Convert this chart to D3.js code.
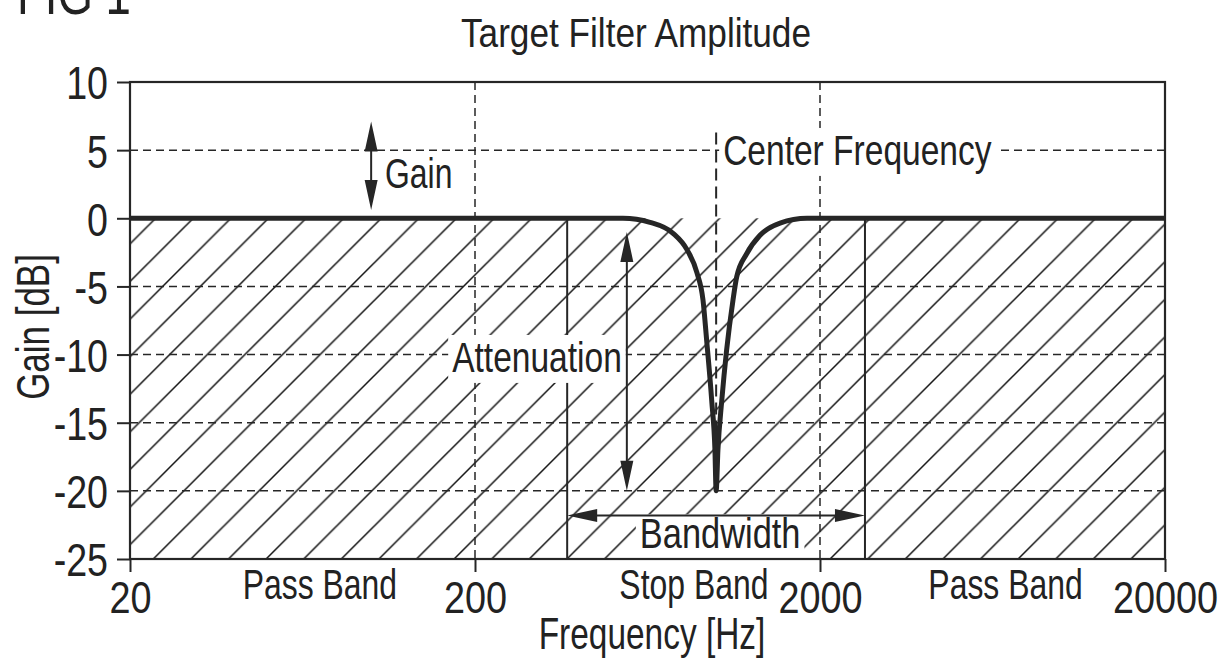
<!DOCTYPE html>
<html>
<head>
<meta charset="utf-8">
<script src="https://cdn.jsdelivr.net/npm/d3@7"></script>
<style>
  body { margin: 0; background: #fff; }
  text { font-family: "Liberation Sans", Arial, sans-serif; fill: #222; }
</style>
</head>
<body>
<div id="chart"></div>
<script>
// filter response
const freqHz = [20, 537, 643, 750, 823, 880, 916, 939, 971, 992, 1000, 1012, 1038, 1072, 1119, 1147, 1226, 1340, 1532, 1834, 20000]
const gainDb = [0, 0, -0.3, -1.1, -2.3, -4.0, -6.0, -9.0, -13.4, -17, -20, -17, -13.4, -9.7, -6.0, -4.3, -2.6, -1.25, -0.35, 0, 0]

const yTicks = [10, 5, 0, -5, -10, -15, -20, -25]
const xTicks = [20, 200, 2000, 20000]
const gridGain = [5, -5, -10, -15, -20]
const gridFreq = [200, 2000]

const bandLabels = ["Pass Band", "Stop Band", "Pass Band"]
const bandLabelFreq = [71, 862, 6900]
const stopBandEdges = [370, 2700]
const centerFreq = 1000
const centerLineTop = 6.3

// arrows: [freq, gain from, gain to]
const gainArrow = [100, 7.1, 0.6]
const attenuationArrow = [551, -1, -20]
const bandwidthArrowGain = -21.8

var SX = 0.76   // condensed look

var W = 1231, H = 666
var margin = {top: 82, right: 66, bottom: 107, left: 130},
    width = W - margin.left - margin.right,
    height = H - margin.top - margin.bottom;

var svg = d3.select("#chart")
  .append("svg")
    .attr("width", W)
    .attr("height", H)

var x = d3.scaleLog()
  .domain([20, 20000])
  .range([margin.left, margin.left + width])

var y = d3.scaleLinear()
  .domain([-25, 10])
  .range([margin.top + height, margin.top])

var ink = "#262626"

// hatch pattern for the area under 0 dB
var P = 37.6
var pat = svg.append("defs").append("pattern")
  .attr("id", "hatch")
  .attr("patternUnits", "userSpaceOnUse")
  .attr("x", 35.5).attr("y", 0)
  .attr("width", P).attr("height", P)
pat.append("path")
  .attr("d", `M0,${P}L${P},0M-2,2L2,-2M${P-2},${P+2}L${P+2},${P-2}`)
  .attr("stroke", "#111")
  .attr("stroke-width", 1.5)

svg.append("rect")
  .attr("x", x(20))
  .attr("y", y(0))
  .attr("width", x(20000) - x(20))
  .attr("height", y(-25) - y(0))
  .attr("fill", "url(#hatch)")

// dashed grid
svg.selectAll("hgrid")
  .data(gridGain)
  .enter()
  .append("line")
  .attr("x1", x(20)).attr("x2", x(20000))
  .attr("y1", d => y(d)).attr("y2", d => y(d))
  .attr("stroke", ink)
  .attr("stroke-width", 1.5)
  .attr("stroke-dasharray", "8,5")

svg.selectAll("vgrid")
  .data(gridFreq)
  .enter()
  .append("line")
  .attr("x1", d => x(d)).attr("x2", d => x(d))
  .attr("y1", y(10)).attr("y2", y(-25))
  .attr("stroke", ink)
  .attr("stroke-width", 1.5)
  .attr("stroke-dasharray", "8,5")

// stop band edges
svg.selectAll("edges")
  .data(stopBandEdges)
  .enter()
  .append("line")
  .attr("x1", d => x(d)).attr("x2", d => x(d))
  .attr("y1", y(0)).attr("y2", y(-25))
  .attr("stroke", ink)
  .attr("stroke-width", 2)

// center frequency marker
svg.append("line")
  .attr("x1", x(centerFreq)).attr("x2", x(centerFreq))
  .attr("y1", y(centerLineTop)).attr("y2", y(-20))
  .attr("stroke", ink)
  .attr("stroke-width", 2)
  .attr("stroke-dasharray", "12,6")

// labels (condensed by horizontal scale)
function label(text, px, py, size, anchor, bg, sx) {
  var g = svg.append("g").attr("transform", `translate(${px},${py})`)
  g.append("text")
    .attr("transform", `scale(${sx || SX},1)`)
    .attr("text-anchor", anchor || "middle")
    .style("font-size", size + "px")
    .text(text)
  if (bg) {
    var b = g.node().getBBox()
    g.insert("rect", "text")
      .attr("x", b.x - bg[0]).attr("y", b.y + bg[1])
      .attr("width", b.width + bg[0] * 2).attr("height", b.height - bg[1] + 2)
      .attr("fill", "#fff")
  }
  return g
}

label("Center Frequency", x(centerFreq) + 7, 165, 43, "start", [4, 2], 0.78)
label("Attenuation", 537, 372, 43, "middle", [4, 2], 0.78)
label("Bandwidth", x(1000) + 4, 548, 43, "middle", [4, 5], 0.8)
label("Gain", 385, 188, 42, "start")

// response curve
var line = d3.line()
  .x((d, i) => x(freqHz[i]))
  .y(d => y(d))
  .curve(d3.curveMonotoneX)

svg.append("path")
  .datum(gainDb)
  .attr("d", line)
  .attr("fill", "none")
  .attr("stroke", ink)
  .attr("stroke-width", 5)
  .attr("stroke-linejoin", "round")

// arrows
var HL = 30, HW = 6.5
function vArrow(a) {
  var px = x(a[0]), y1 = y(a[1]), y2 = y(a[2])
  svg.append("line")
    .attr("x1", px).attr("x2", px)
    .attr("y1", y1 + HL - 2).attr("y2", y2 - HL + 2)
    .attr("stroke", ink).attr("stroke-width", 2)
  svg.append("path")
    .attr("d", `M${px},${y1}L${px - HW},${y1 + HL}L${px + HW},${y1 + HL}Z` +
               `M${px},${y2}L${px - HW},${y2 - HL}L${px + HW},${y2 - HL}Z`)
    .attr("fill", ink)
}
vArrow(gainArrow)
vArrow(attenuationArrow)

var bx1 = x(stopBandEdges[0]), bx2 = x(stopBandEdges[1]), by = y(bandwidthArrowGain)
svg.append("line")
  .attr("x1", bx1 + HL - 2).attr("x2", bx2 - HL + 2)
  .attr("y1", by).attr("y2", by)
  .attr("stroke", ink).attr("stroke-width", 2)
svg.append("path")
  .attr("d", `M${bx1},${by}L${bx1 + HL},${by - HW}L${bx1 + HL},${by + HW}Z` +
             `M${bx2},${by}L${bx2 - HL},${by - HW}L${bx2 - HL},${by + HW}Z`)
  .attr("fill", ink)

// frame
svg.append("rect")
  .attr("x", x(20)).attr("y", y(10))
  .attr("width", width).attr("height", height)
  .attr("fill", "none")
  .attr("stroke", ink)
  .attr("stroke-width", 2.2)

// axes
var ySX = 0.8, xSX = 0.86
var yAxis = svg.append("g")
  .attr("transform", `translate(${margin.left},0)`)
  .call(d3.axisLeft(y).tickValues(yTicks).tickSize(13).tickFormat(d => String(d)))
yAxis.select(".domain").remove()
yAxis.selectAll("line").attr("stroke", ink).attr("stroke-width", 2)
yAxis.selectAll("text")
  .attr("x", -22 / ySX)
  .attr("dy", "0.36em")
  .attr("transform", `scale(${ySX},1)`)
  .style("font-size", "47px")
  .attr("fill", "#222")

var xAxis = svg.append("g")
  .attr("transform", `translate(0,${margin.top + height})`)
  .call(d3.axisBottom(x).tickValues(xTicks).tickSize(13).tickFormat(d => String(d)))
xAxis.select(".domain").remove()
xAxis.selectAll("line").attr("stroke", ink).attr("stroke-width", 2)
xAxis.selectAll(".tick text")
  .attr("x", 0)
  .attr("y", 54)
  .attr("dy", 0)
  .attr("transform", `scale(${xSX},1)`)
  .style("font-size", "44px")
  .attr("fill", "#222")
svg.selectAll(".tick text").style("font-family", "'Liberation Sans', Arial, sans-serif")

// band names under the axis
bandLabels.forEach((b, i) => label(b, x(bandLabelFreq[i]), 599, 42, "middle"))

// titles
label("Target Filter Amplitude", 636, 47, 40, "middle", null, 0.88)
label("Frequency [Hz]", 652, 649, 44, "middle")
svg.append("text")
  .attr("transform", `translate(49,327) rotate(-90) scale(${SX},1)`)
  .attr("text-anchor", "middle")
  .style("font-size", "46px")
  .text("Gain [dB]")
label("FIG 1", 17, 14, 60, "start")
</script>
</body>
</html>
